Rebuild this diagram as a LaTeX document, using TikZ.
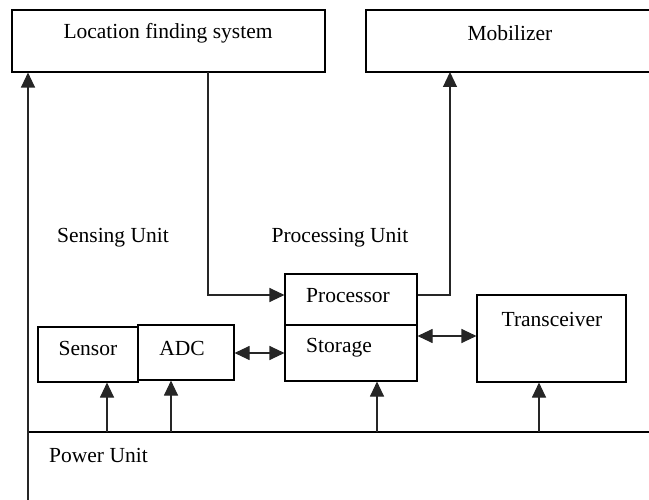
\documentclass[tikz,border=0pt]{standalone}
\usepackage{fontspec}
\setmainfont{Liberation Serif}
\usetikzlibrary{arrows.meta}
\begin{document}
\begin{tikzpicture}[x=1pt,y=-1pt,
  box/.style={draw, line width=1.1pt, inner sep=0pt},
  lbl/.style={inner sep=0pt, font=\fontsize{21.5}{25}\selectfont},
  conn/.style={line width=1.1pt, draw=black!85},
  arr/.style={conn, -{Triangle[width=14pt,length=15pt]}},
  darr/.style={conn, {Triangle[width=14pt,length=15pt]}-{Triangle[width=14pt,length=15pt]}}]
\useasboundingbox (0,0) rectangle (649,500);
% boxes
\node[box, minimum width=313pt, minimum height=62pt] (loc) at (168.5,41) {};
\node[box, minimum width=294pt, minimum height=62pt] (mob) at (513,41) {};
\node[box, minimum width=132pt, minimum height=51pt] (proc) at (351,299.5) {};
\node[box, minimum width=132pt, minimum height=56pt] (stor) at (351,353) {};
\node[box, minimum width=149pt, minimum height=87pt] (trans) at (551.5,338.5) {};
\node[box, minimum width=100pt, minimum height=55pt] (sensor) at (88,354.5) {};
\node[box, minimum width=96pt, minimum height=55pt, fill=white] (adc) at (186,352.5) {};
% texts
\node[lbl] (tloc) at (168,33) {Location finding system};
\node[lbl] (tmob) at (510,33) {Mobilizer};
\node[lbl, anchor=west] (tproc) at (306,296) {Processor};
\node[lbl, anchor=west] (tstor) at (306,348) {Storage};
\node[lbl] (ttrans) at (552,319) {Transceiver};
\node[lbl] (tsens) at (88,348) {Sensor};
\node[lbl] (tadc) at (182,348) {ADC};
\node[lbl] (tsu) at (113,238) {Sensing Unit};
\node[lbl] (tpu) at (340,238) {Processing Unit};
\node[lbl, anchor=west] (tpow) at (49,455) {Power Unit};
% power line
\coordinate (pl) at (28,432);
\coordinate (pr) at (660,432);
\draw[conn, draw=black] (pl) -- (pr);
% left arrow to location finding system
\coordinate (ps) at (28,500);
\draw[arr] (ps) -- (ps |- loc.south);
% location -> processor
\coordinate (c1) at (208,72);
\draw[arr] (c1) |- ([yshift=4.5pt]proc.west);
% processor -> mobilizer
\coordinate (c2) at (450,72);
\draw[arr] ([yshift=4.5pt]proc.east) -| (c2);
% double arrows
\coordinate (d1) at (0,353);
\draw[darr] (adc.east |- d1) -- (stor.west |- d1);
\coordinate (d2) at (0,336);
\draw[darr] (stor.east |- d2) -- (trans.west |- d2);
% power arrows
\coordinate (u1) at (107,432);
\coordinate (u2) at (171,432);
\coordinate (u3) at (377,432);
\coordinate (u4) at (539,432);
\draw[arr] (u1) -- (u1 |- sensor.south);
\draw[arr] (u2) -- (u2 |- adc.south);
\draw[arr] (u3) -- (u3 |- stor.south);
\draw[arr] (u4) -- (u4 |- trans.south);
\end{tikzpicture}
\end{document}
